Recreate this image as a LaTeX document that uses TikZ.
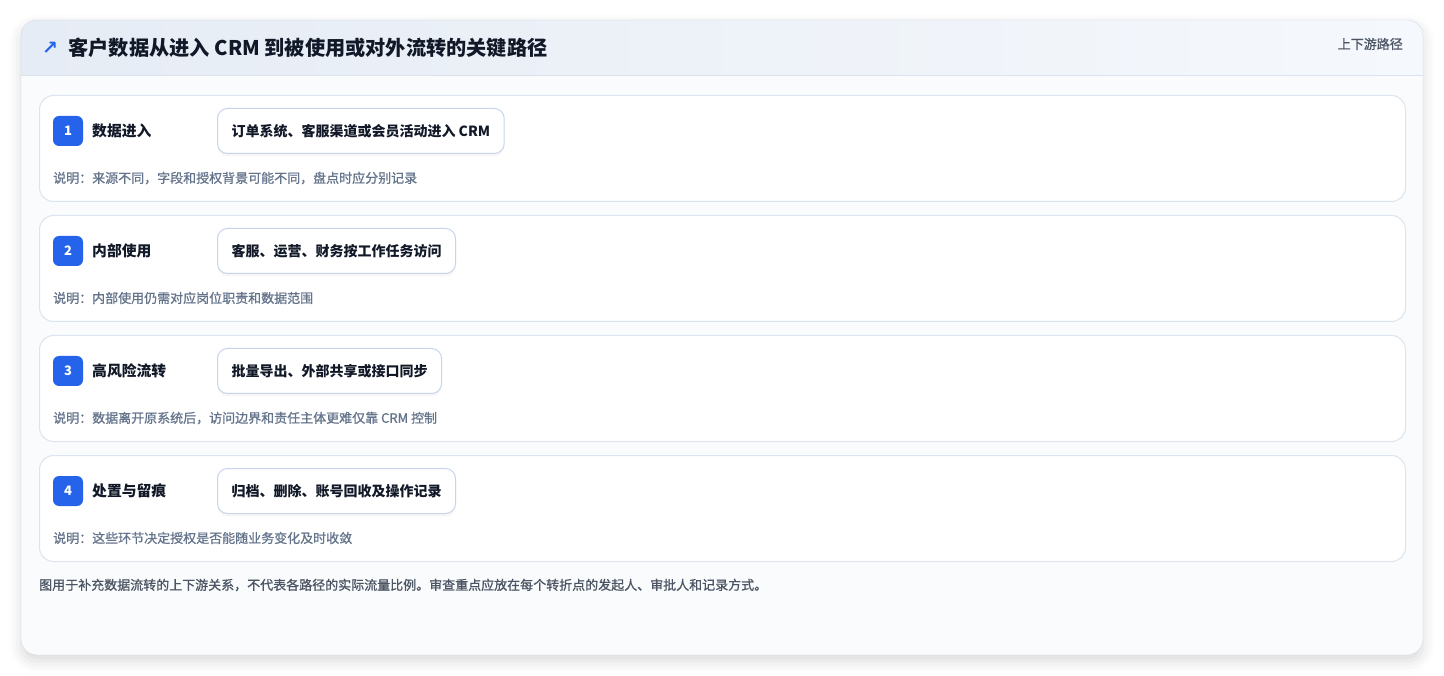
\documentclass[tikz,border=0pt]{standalone}
\usepackage{fontspec}
\setmainfont{Noto Sans CJK SC}
\newfontfamily\symf{DejaVu Sans}
\newfontfamily\medf{Noto Sans CJK SC}[FakeBold=0.9]
\usetikzlibrary{positioning,shadows,shadows.blur}
\definecolor{brand}{HTML}{2563EB}
\definecolor{ink}{HTML}{111827}
\definecolor{muted}{HTML}{64748B}
\definecolor{footc}{HTML}{4B5563}
\definecolor{cardline}{HTML}{D3D9E2}
\definecolor{rowline}{HTML}{DCE4F0}
\definecolor{pillline}{HTML}{C6D5EC}
\definecolor{headl}{HTML}{E6ECF5}
\definecolor{headr}{HTML}{F5F8FC}
\definecolor{headline}{HTML}{D9E2EE}
\definecolor{bodyc}{HTML}{FAFBFD}
\newcommand{\fs}[1]{\fontsize{#1}{#1}\selectfont}

\begin{document}
\begin{tikzpicture}[x=1pt,y=-1pt,
   rowbox/.style={draw=rowline,fill=white,line width=1pt,rounded corners=14pt,
      minimum width=1366pt,minimum height=106pt,inner sep=0pt},
   badge/.style={fill=brand,text=white,rounded corners=6pt,minimum size=30pt,
      inner sep=0pt,font=\fs{13}\bfseries},
   steplabel/.style={anchor=west,inner sep=0pt,font=\fs{14.8}\bfseries,text=ink},
   pill/.style={anchor=west,draw=pillline,fill=white,line width=1pt,rounded corners=10pt,
      minimum height=45pt,inner xsep=14pt,font=\fs{14}\bfseries,text=ink,
      drop shadow={shadow xshift=0pt,shadow yshift=-3pt,opacity=0.06}},
   note/.style={anchor=west,inner sep=0pt,font=\medf\fs{13},text=muted}]
   \useasboundingbox (0,0) rectangle (1444,676);
   % card and header band
   \path[fill=bodyc,rounded corners=16pt,
      blur shadow={shadow xshift=0pt,shadow yshift=-6pt,shadow blur radius=12pt,shadow opacity=15}]
      (21,20) rectangle (1423,655);
   \begin{scope}
      \clip[rounded corners=16pt] (21,20) rectangle (1423,655);
      \shade[left color=headl,right color=headr] (21,20) rectangle (1423,75);
   \end{scope}
   \draw[headline] (21,75) -- (1423,75);
   \draw[cardline,rounded corners=16pt] (21,20) rectangle (1423,655);
   \node[anchor=west,inner sep=0pt,text=brand,font=\symf\bfseries\fs{19}] (icon) at (42,48) {↗};
   \node[right=10pt of icon,inner sep=0pt,font=\fs{20.2}\bfseries,text=ink] (title)
      {客户数据从进入 CRM 到被使用或对外流转的关键路径};
   \node[anchor=east,inner sep=0pt,font=\medf\fs{13},text=footc] (tag) at (1403,44) {上下游路径};
   % steps
   \foreach \i/\lab/\flow/\why in {
      1/数据进入/{订单系统、客服渠道或会员活动进入 CRM}/{说明：来源不同，字段和授权背景可能不同，盘点时应分别记录},
      2/内部使用/{客服、运营、财务按工作任务访问}/{说明：内部使用仍需对应岗位职责和数据范围},
      3/高风险流转/{批量导出、外部共享或接口同步}/{说明：数据离开原系统后，访问边界和责任主体更难仅靠 CRM 控制},
      4/处置与留痕/{归档、删除、账号回收及操作记录}/{说明：这些环节决定授权是否能随业务变化及时收敛}}{
      \pgfmathsetmacro\rowy{95+120*(\i-1)}
      \node[rowbox,anchor=north west] (row\i) at (39,\rowy) {};
      \node[badge] (badge\i) at (68,\rowy+36) {\i};
      \node[steplabel] (label\i) at (92,\rowy+36) {\lab};
      \node[pill] (flow\i) at (217,\rowy+36) {\flow};
      \node[note] (why\i) at (53,\rowy+83) {\why};
   }
   \node[note,text=footc] (foot) at (39,585)
      {图用于补充数据流转的上下游关系，不代表各路径的实际流量比例。审查重点应放在每个转折点的发起人、审批人和记录方式。};
\end{tikzpicture}
\end{document}
